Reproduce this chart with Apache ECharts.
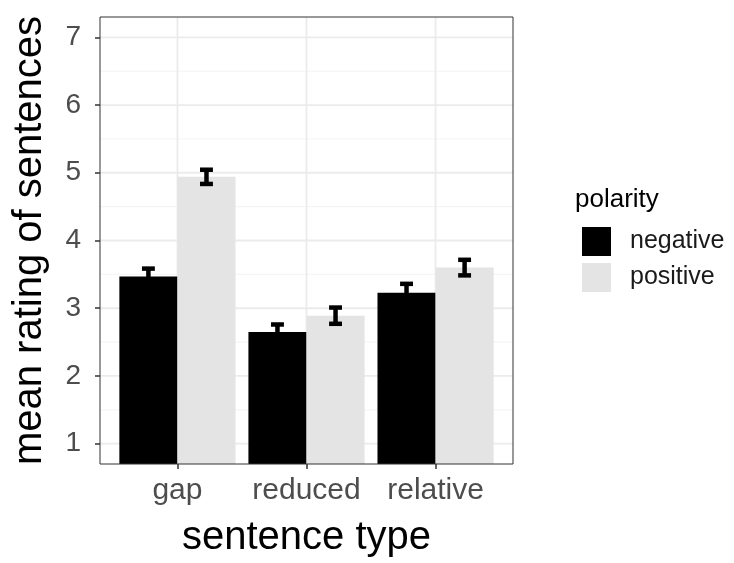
<!DOCTYPE html>
<html>
<head>
<meta charset="utf-8">
<script src="https://cdn.jsdelivr.net/npm/echarts@6/dist/echarts.min.js"></script>
<style>
  html, body { margin: 0; padding: 0; background: #fff; }
  #chart { width: 734px; height: 563px; }
</style>
</head>
<body>
<div id="chart"></div>
<script>
// Mean sentence ratings by sentence type and polarity, with standard-error bars
const categories = ['gap', 'reduced', 'relative'];
const polarities = ['negative', 'positive'];
const negativeMean = [3.47, 2.65, 3.23];
const positiveMean = [4.94, 2.89, 3.60];
const negativeSE = [0.115, 0.11, 0.13];
const positiveSE = [0.105, 0.12, 0.115];
const yTicks = [1, 2, 3, 4, 5, 6, 7];
const yMinorTicks = [1.5, 2.5, 3.5, 4.5, 5.5, 6.5];
const xTicks = [1, 2, 3];

const Y_MIN = 0.7, Y_MAX = 7.3;
const X_MIN = 0.4, X_MAX = 3.6;
const DODGE = 0.225;      // half of the dodge width (0.9 / 2 / 2)
const BAR_HALF = 0.225;   // half bar width in category units
const CAP_HALF = 0.05;    // half errorbar cap width

const FONT = "'Liberation Sans', Arial, Helvetica, sans-serif";

function hLineSeries(values, color, width) {
  return {
    type: 'custom',
    silent: true,
    z: 1,
    data: values.map(v => [v]),
    renderItem: function (params, api) {
      const v = api.value(0);
      const p1 = api.coord([X_MIN, v]);
      const p2 = api.coord([X_MAX, v]);
      return { type: 'line', shape: { x1: p1[0], y1: p1[1], x2: p2[0], y2: p2[1] },
               style: { stroke: color, lineWidth: width } };
    }
  };
}

function vLineSeries(values, color, width) {
  return {
    type: 'custom',
    silent: true,
    z: 1,
    data: values.map(v => [v]),
    renderItem: function (params, api) {
      const v = api.value(0);
      const p1 = api.coord([v, Y_MIN]);
      const p2 = api.coord([v, Y_MAX]);
      return { type: 'line', shape: { x1: p1[0], y1: p1[1], x2: p2[0], y2: p2[1] },
               style: { stroke: color, lineWidth: width } };
    }
  };
}

function barSeries(name, means, offset, color) {
  return {
    name: name,
    type: 'custom',
    z: 3,
    itemStyle: { color: color },
    data: means.map((m, i) => [i + 1 + offset, m]),
    renderItem: function (params, api) {
      const x = api.value(0), y = api.value(1);
      const topLeft = api.coord([x - BAR_HALF, y]);
      const bottomRight = api.coord([x + BAR_HALF, 0]);
      const rect = echarts.graphic.clipRectByRect({
        x: topLeft[0], y: topLeft[1],
        width: bottomRight[0] - topLeft[0],
        height: bottomRight[1] - topLeft[1]
      }, {
        x: params.coordSys.x, y: params.coordSys.y,
        width: params.coordSys.width, height: params.coordSys.height
      });
      return rect && { type: 'rect', shape: rect, style: { fill: color } };
    }
  };
}

function errorSeries(means, ses, offset) {
  return {
    type: 'custom',
    silent: true,
    z: 4,
    data: means.map((m, i) => [i + 1 + offset, m, ses[i]]),
    renderItem: function (params, api) {
      const x = api.value(0), m = api.value(1), se = api.value(2);
      const lo = api.coord([x, m - se]);
      const hi = api.coord([x, m + se]);
      const loL = api.coord([x - CAP_HALF, m - se]);
      const loR = api.coord([x + CAP_HALF, m - se]);
      const hiL = api.coord([x - CAP_HALF, m + se]);
      const hiR = api.coord([x + CAP_HALF, m + se]);
      const st = { stroke: '#000', lineWidth: 4.5 };
      return {
        type: 'group',
        children: [
          { type: 'line', shape: { x1: lo[0], y1: lo[1], x2: hi[0], y2: hi[1] }, style: st },
          { type: 'line', shape: { x1: loL[0], y1: loL[1], x2: loR[0], y2: loR[1] }, style: st },
          { type: 'line', shape: { x1: hiL[0], y1: hiL[1], x2: hiR[0], y2: hiR[1] }, style: st }
        ]
      };
    }
  };
}

const chart = echarts.init(document.getElementById('chart'), null, { renderer: 'canvas' });

chart.setOption({
  backgroundColor: '#fff',
  animation: false,
  title: {
    text: 'polarity',
    left: 575,
    top: 187,
    padding: 0,
    textStyle: { fontFamily: FONT, fontSize: 26, fontWeight: 'normal', color: '#000' }
  },
  legend: {
    data: polarities,
    orient: 'vertical',
    left: 582,
    top: 227,
    padding: 0,
    itemWidth: 29,
    itemHeight: 29,
    itemGap: 7,
    icon: 'rect',
    textStyle: { fontFamily: FONT, fontSize: 25, color: '#1a1a1a', padding: [0, 0, 0, 14] }
  },
  grid: {
    left: 100,
    top: 17,
    right: 221,
    bottom: 99,
    show: true,
    borderColor: '#333',
    borderWidth: 1,
    backgroundColor: 'transparent',
    z: 5
  },
  xAxis: {
    type: 'value',
    min: X_MIN,
    max: X_MAX,
    name: 'sentence type',
    nameLocation: 'middle',
    nameGap: 54,
    nameTextStyle: { fontFamily: FONT, fontSize: 40, color: '#000' },
    axisLine: { show: false },
    splitLine: { show: false },
    axisTick: { show: true, length: 5, customValues: xTicks, lineStyle: { color: '#333', width: 1.5 } },
    axisLabel: {
      customValues: xTicks,
      margin: 12,
      fontFamily: FONT,
      fontSize: 30,
      color: '#4d4d4d',
      formatter: v => categories[Math.round(v) - 1]
    }
  },
  yAxis: {
    type: 'value',
    min: Y_MIN,
    max: Y_MAX,
    name: 'mean rating of sentences',
    nameLocation: 'middle',
    nameGap: 50,
    nameTextStyle: { fontFamily: FONT, fontSize: 40, color: '#000' },
    axisLine: { show: false },
    splitLine: { show: false },
    axisTick: { show: true, length: 5, customValues: yTicks, lineStyle: { color: '#333', width: 1.5 } },
    axisLabel: {
      customValues: yTicks,
      margin: 19,
      fontFamily: FONT,
      fontSize: 28,
      color: '#4d4d4d'
    }
  },
  series: [
    hLineSeries(yMinorTicks, '#f2f2f2', 0.9),
    hLineSeries(yTicks, '#ebebeb', 1.8),
    vLineSeries(xTicks, '#ebebeb', 1.8),
    barSeries('negative', negativeMean, -DODGE, '#000000'),
    barSeries('positive', positiveMean, DODGE, '#e4e4e4'),
    errorSeries(negativeMean, negativeSE, -DODGE),
    errorSeries(positiveMean, positiveSE, DODGE)
  ]
});
</script>
</body>
</html>
